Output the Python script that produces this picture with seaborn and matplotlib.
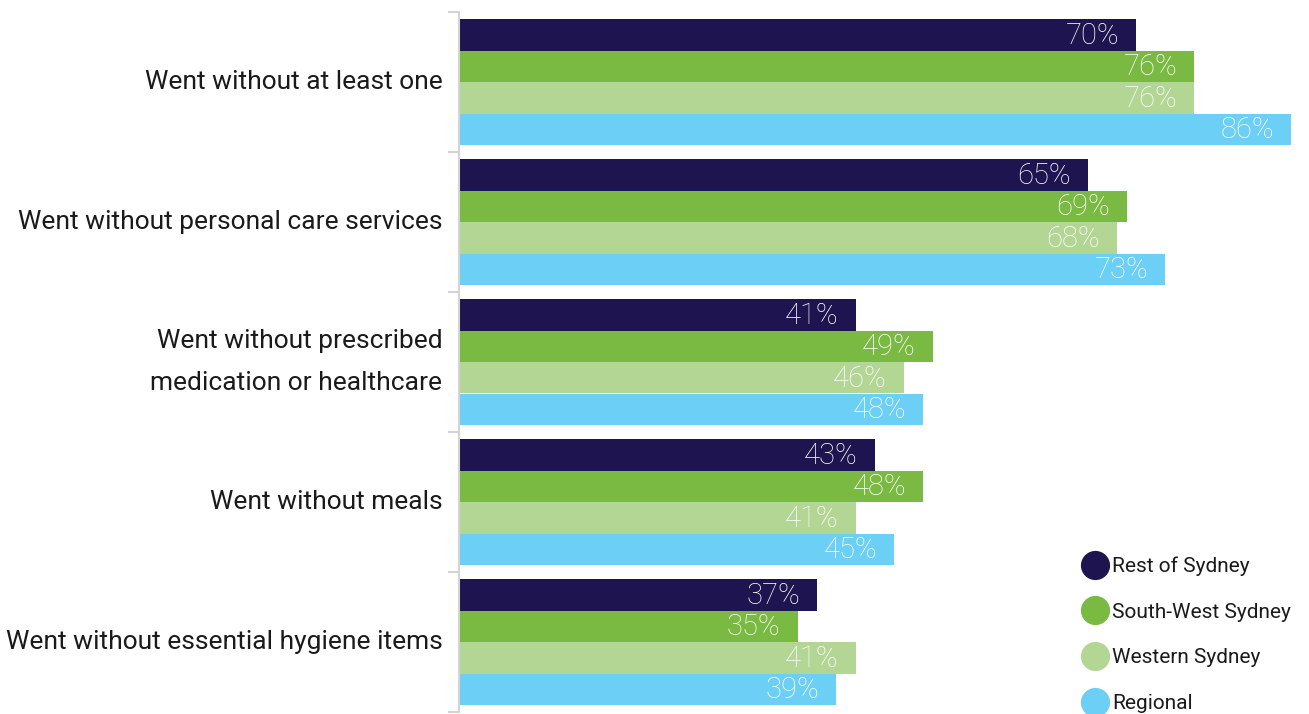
import matplotlib
matplotlib.use("Agg")
import matplotlib.pyplot as plt
from matplotlib.lines import Line2D
import seaborn as sns
import pandas as pd
import numpy as np

categories = [
    "Went without at least one",
    "Went without personal care services",
    "Went without prescribed\nmedication or healthcare",
    "Went without meals",
    "Went without essential hygiene items",
]
regions = ["Rest of Sydney", "South-West Sydney", "Western Sydney", "Regional"]
rest_of_sydney = [70, 65, 41, 43, 37]
south_west_sydney = [76, 69, 49, 48, 35]
western_sydney = [76, 68, 46, 41, 41]
regional = [86, 73, 48, 45, 39]
colors = ["#1e1450", "#7aba43", "#b3d695", "#6ccff6"]

series = [rest_of_sydney, south_west_sydney, western_sydney, regional]
df = pd.DataFrame(
    [(c, r, v) for r, vals in zip(regions, series) for c, v in zip(categories, vals)],
    columns=["category", "region", "value"],
)

sns.set_theme(style="white")
plt.rcParams["font.family"] = ["Roboto", "DejaVu Sans"]

fig = plt.figure(figsize=(13.09, 7.14), dpi=100)
ax = fig.add_axes([459 / 1309, 2 / 714, (1291 - 459) / 1309, 700 / 714])

sns.barplot(
    data=df, y="category", x="value", hue="region", order=categories,
    hue_order=regions, palette=colors, orient="h", width=0.9,
    saturation=1, legend=False, linewidth=0, ax=ax,
)
ax.set_xlim(0, 86)
ax.set_ylim(4.5, -0.5)

# value labels, right-aligned inside each bar end
for cont in ax.containers:
    for bar in cont:
        w = bar.get_width()
        ax.annotate(
            f"{w:.0f}%", (w, bar.get_y() + bar.get_height() / 2),
            xytext=(-17, -1), textcoords="offset pixels",
            ha="right", va="center", color="white", fontsize=21,
            fontweight="light",
        )

ax.set_xlabel("")
ax.set_ylabel("")
ax.xaxis.set_visible(False)
for s in ["top", "right", "bottom"]:
    ax.spines[s].set_visible(False)
ax.spines["left"].set_color("#d4d4d4")
ax.spines["left"].set_linewidth(1.5)

ax.tick_params(axis="y", which="major", left=False, length=0, pad=12,
               labelsize=19, labelcolor="#1a1a1a")
ax.set_yticks(np.arange(-0.5, 5.0, 1.0), minor=True)
ax.tick_params(axis="y", which="minor", left=True, length=8, width=1.5,
               color="#d4d4d4")
for lbl in ax.get_yticklabels():
    lbl.set_linespacing(1.9)
    lbl.set_ha("right")
    lbl.set_va("center")

handles = [
    Line2D([], [], marker="o", linestyle="none", markersize=20,
           markerfacecolor=c, markeredgecolor=c, label=r)
    for c, r in zip(colors, regions)
]
fig.legend(
    handles=handles, loc="upper left", bbox_to_anchor=(1076 / 1309, 1 - 548 / 714),
    frameon=False, fontsize=15, handlelength=1.0, handletextpad=0.35,
    labelspacing=1.28, borderaxespad=0, labelcolor="#1a1a1a",
)

fig.savefig("out.png", dpi=100)
